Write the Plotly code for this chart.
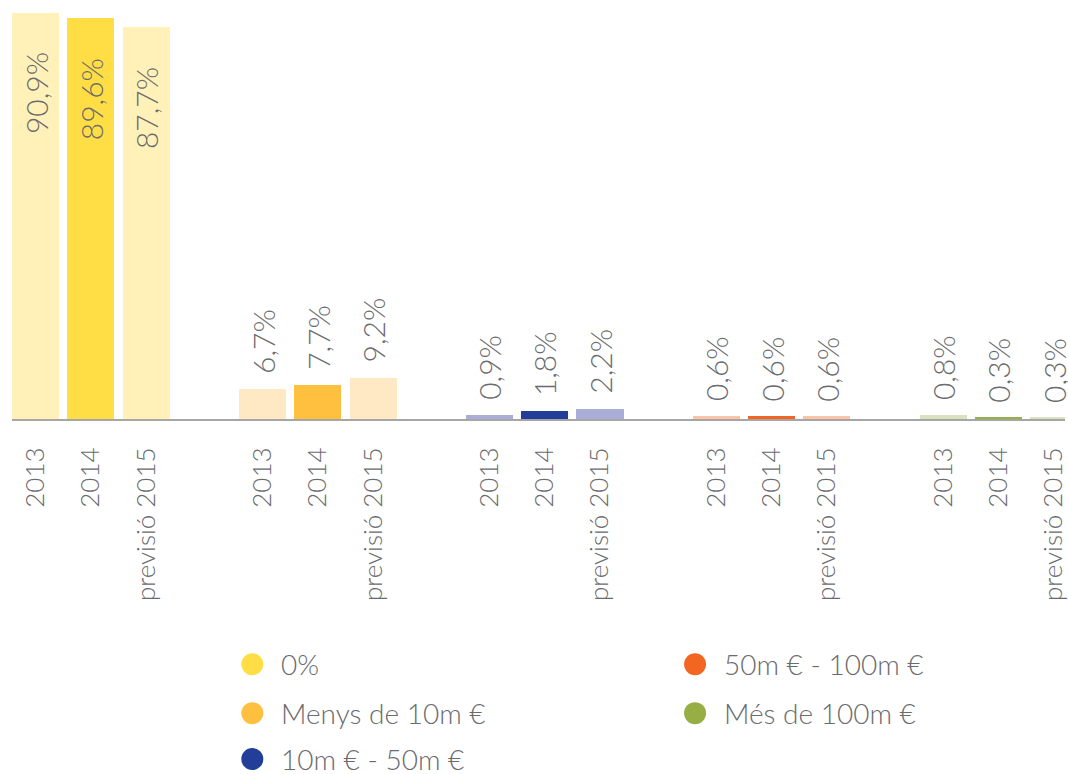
import plotly.graph_objects as go

# ---- data ----
categories = ["0%", "Menys de 10m €", "10m € - 50m €", "50m € - 100m €", "Més de 100m €"]
years = ["2013", "2014", "previsió 2015"]
values_2013 = [90.9, 6.7, 0.9, 0.6, 0.8]
values_2014 = [89.6, 7.7, 1.8, 0.6, 0.3]
values_2015 = [87.7, 9.2, 2.2, 0.6, 0.3]
series = [values_2013, values_2014, values_2015]

full_colors = ["#FFDD44", "#FFC03F", "#233E99", "#F26522", "#97AE45"]
light_colors = ["#FFF1B8", "#FFE9C4", "#AAAED6", "#FBC4A6", "#D9E2BE"]
year_colors = [light_colors, full_colors, light_colors]

TEXT = "#6a6b6e"
FONT = "Lato"
GROUP_STEP = 4.1
BAR_W = 0.85

def fmt(v):
    return f"{v:.1f}".replace(".", ",") + "%"

fig = go.Figure()
tickvals, ticktext = [], []
annotations = []
for i, (yr, vals) in enumerate(zip(years, series)):
    xs = [g * GROUP_STEP + i for g in range(len(categories))]
    fig.add_trace(go.Bar(
        x=xs, y=vals, width=BAR_W, name=yr,
        marker=dict(color=year_colors[i], line=dict(width=0)),
        showlegend=False, hoverinfo="skip",
    ))
    for x, v in zip(xs, vals):
        tickvals.append(x)
        ticktext.append(yr)
        inside = v > 50
        annotations.append(dict(
            x=x, y=v, xref="x", yref="y", text=fmt(v), showarrow=False,
            textangle=-90, xanchor="center",
            yanchor="top" if inside else "bottom",
            yshift=-38 if inside else 13,
            font=dict(family=FONT, size=30, color=TEXT, weight=300),
        ))

FIG_W, FIG_H = 1068, 774
PLOT_L = 12
PLOT_W = FIG_W - PLOT_L
BASE = 419.5               # baseline in figure pixels
PX_PER_UNIT = 4.477

# ---- manual legend (two columns) ----
legend_pos = [(253, 665), (253, 714), (253, 760), (697, 665), (697, 714)]
shapes = []
for name, col, (cx, cy) in zip(categories, full_colors, legend_pos):
    px_ = (cx - PLOT_L) / PLOT_W
    py_ = (BASE - cy) / BASE
    shapes.append(dict(type="circle", xref="paper", yref="paper",
                       xsizemode="pixel", ysizemode="pixel",
                       xanchor=px_, yanchor=py_, x0=-11, x1=11, y0=-11, y1=11,
                       fillcolor=col, line=dict(width=0)))
    annotations.append(dict(x=(cx + 27 - PLOT_L) / PLOT_W, y=py_,
                            xref="paper", yref="paper",
                            text=name, showarrow=False, xanchor="left", yanchor="middle",
                            font=dict(family=FONT, size=28, color=TEXT, weight=300)))

xmin = -BAR_W / 2
xmax = xmin + PLOT_W / 55.5
fig.update_layout(
    width=FIG_W, height=FIG_H,
    margin=dict(l=PLOT_L, r=0, t=0, b=FIG_H - BASE, pad=0),
    paper_bgcolor="white", plot_bgcolor="white",
    barmode="overlay", bargap=0,
    xaxis=dict(range=[xmin, xmax], tickvals=tickvals, ticktext=ticktext,
               tickangle=-90, showgrid=False, zeroline=False,
               showline=True, linecolor="#a6a6a6", linewidth=2,
               ticks="", ticklabelstandoff=16, ticklabeloverflow="allow",
               tickfont=dict(family=FONT, size=26, color=TEXT, weight=300)),
    yaxis=dict(range=[0, BASE / PX_PER_UNIT], visible=False,
               showgrid=False, zeroline=False),
    annotations=annotations, shapes=shapes,
)
fig.write_html(
    "out.html",
    config={"displayModeBar": False},
    post_script="document.body.style.margin='0';"
                "document.body.style.overflow='hidden';"
                "document.documentElement.style.overflow='hidden';",
)
